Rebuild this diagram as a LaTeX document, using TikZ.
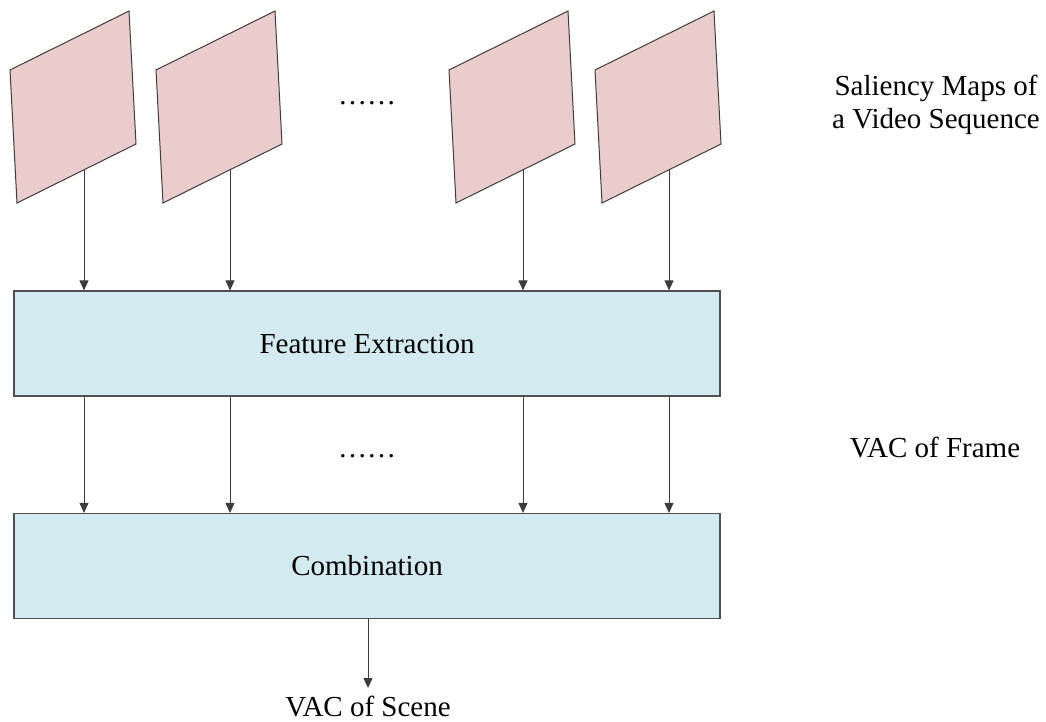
\documentclass[tikz,border=0pt]{standalone}
\usepackage{fontspec}
\setmainfont{Liberation Serif}
\usepackage{xcolor}
\usepackage{tikz}
\usetikzlibrary{arrows.meta}
\usetikzlibrary{positioning}
\definecolor{mappink}{RGB}{235,204,204}
\definecolor{boxblue}{RGB}{211,234,240}
\definecolor{edgegray}{RGB}{60,60,60}

\begin{document}
\begin{tikzpicture}[x=1pt, y=-1pt,
		flow/.style={-{Triangle[length=10pt, width=9pt]}, line width=1pt, draw=edgegray},
		procbox/.style={draw=edgegray!90, line width=1.2pt, fill=boxblue,
			minimum width=706pt, minimum height=105pt, inner sep=0pt},
		label/.style={align=center, inner sep=1pt, font=\fontsize{29}{33}\selectfont}
	]
			\useasboundingbox (0,0) rectangle (1046,721);

			% saliency maps, one sheet per frame
			\foreach \x/\n in {10/1, 156/2, 449/3, 595/4} {
				\draw[edgegray, line width=1pt, fill=mappink, line join=miter]
					(\x,70) -- (\x+119,11) -- (\x+126,144) -- (\x+7,203) -- cycle;
				\coordinate (map\n) at (\x+74,169.8);
			}
			\node[label, anchor=base] (mapdots) at (367,104) {……};
			\node[label, anchor=base] (mapname) at (936,128) {Saliency Maps of\\a Video Sequence};

			\node[procbox] (feat) at (367,343.5) {};
			\node[label, anchor=base] (feattext) at (367,353) {Feature Extraction};
			\node[procbox] (comb) at (367,566) {};
			\node[label, anchor=base] (combtext) at (367,575) {Combination};

			\node[label, anchor=base] (framedots) at (367,457) {……};
			\node[label, anchor=base] (framename) at (935,457) {VAC of Frame};

			\foreach \n in {1,...,4} {
				\draw[flow] (map\n) -- (map\n |- feat.north);
				\draw[flow] (map\n |- feat.south) -- (map\n |- comb.north);
			}

			\coordinate (scenetip) at (368,688);
			\draw[flow] (comb.south -| scenetip) -- (scenetip);
			\node[label, anchor=base] (scene) at (368,716) {VAC of Scene};
		\end{tikzpicture}
\end{document}
